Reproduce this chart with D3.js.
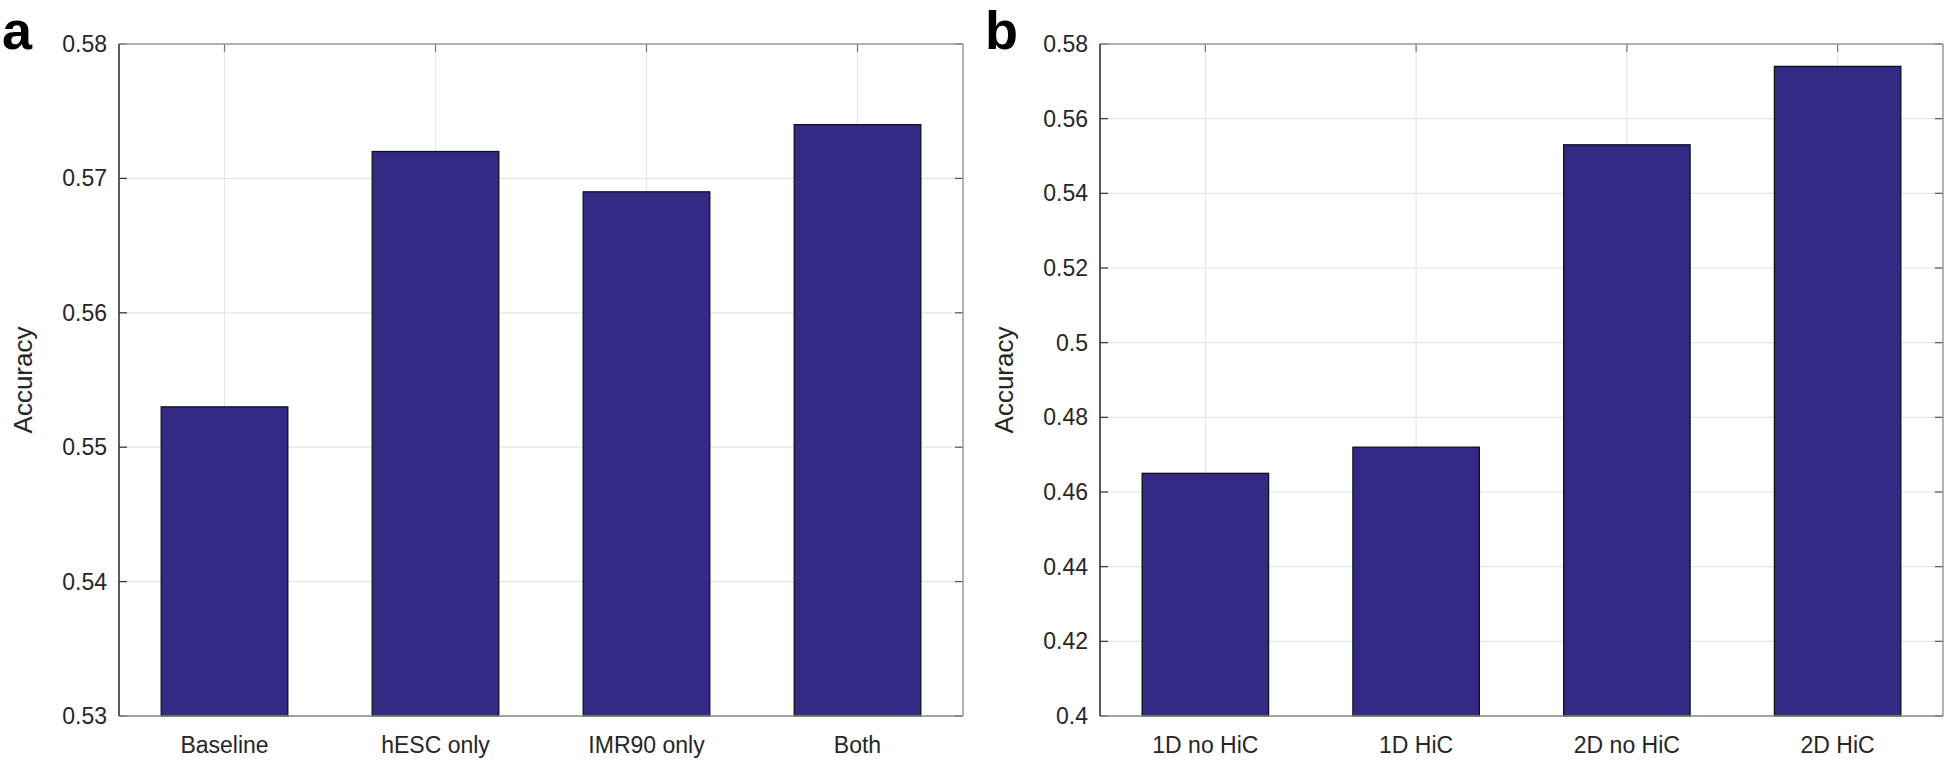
<!DOCTYPE html>
<html><head><meta charset="utf-8">
<script src="https://cdn.jsdelivr.net/npm/d3@7"></script>
<style>body{margin:0;background:#fff}svg{display:block}text{font-family:"Liberation Sans",Arial,sans-serif}</style>
</head><body>
<svg id="c" width="1946" height="761"></svg>
<script>
const catsA = ["Baseline","hESC only","IMR90 only","Both"];
const valsA = [0.553,0.572,0.569,0.574];
const ticksA = [0.53,0.54,0.55,0.56,0.57,0.58];
const catsB = ["1D no HiC","1D HiC","2D no HiC","2D HiC"];
const valsB = [0.465,0.472,0.553,0.574];
const ticksB = [0.4,0.42,0.44,0.46,0.48,0.5,0.52,0.54,0.56,0.58];
const tickLabelsB = ["0.4","0.42","0.44","0.46","0.48","0.5","0.52","0.54","0.56","0.58"];
const tickLabelsA = ["0.53","0.54","0.55","0.56","0.57","0.58"];

const svg = d3.select("#c");
const barColor = "#332a86";

function panel(letter, x0, x1, cats, vals, ticks, tlabels, letterX){
  const top = 44, bottom = 716;
  const g = svg.append("g");
  const x = d3.scaleLinear().domain([0.5, cats.length+0.5]).range([x0, x1]);
  const y = d3.scaleLinear().domain([ticks[0], ticks[ticks.length-1]]).range([bottom, top]);
  // grid
  g.selectAll(".gy").data(ticks).join("line")
    .attr("x1",x0).attr("x2",x1).attr("y1",d=>y(d)).attr("y2",d=>y(d))
    .attr("stroke","#e6e6e6").attr("stroke-width",1.2);
  g.selectAll(".gx").data(cats).join("line")
    .attr("x1",(d,i)=>x(i+1)).attr("x2",(d,i)=>x(i+1)).attr("y1",top).attr("y2",bottom)
    .attr("stroke","#e6e6e6").attr("stroke-width",1.2);
  // ticks inside left / right
  ticks.forEach(t=>{
    g.append("line").attr("x1",x0).attr("x2",x0+8).attr("y1",y(t)).attr("y2",y(t)).attr("stroke","#333").attr("stroke-width",1.2);
    g.append("line").attr("x1",x1).attr("x2",x1-8).attr("y1",y(t)).attr("y2",y(t)).attr("stroke","#555").attr("stroke-width",1.2);
  });
  cats.forEach((c,i)=>{
    g.append("line").attr("x1",x(i+1)).attr("x2",x(i+1)).attr("y1",top).attr("y2",top+8).attr("stroke","#777").attr("stroke-width",1.2);
  });
  // bars
  const bw = (x(2)-x(1))*0.6;
  g.selectAll(".bar").data(vals).join("rect")
    .attr("x",(d,i)=>x(i+1)-bw/2).attr("width",bw)
    .attr("y",d=>y(d)).attr("height",d=>bottom-y(d))
    .attr("fill",barColor).attr("stroke","#111").attr("stroke-width",1.3);
  // box
  g.append("line").attr("x1",x0).attr("x2",x1).attr("y1",top).attr("y2",top).attr("stroke","#999").attr("stroke-width",1.5);
  g.append("line").attr("x1",x1).attr("x2",x1).attr("y1",top).attr("y2",bottom).attr("stroke","#999").attr("stroke-width",1.5);
  g.append("line").attr("x1",x0).attr("x2",x1).attr("y1",bottom).attr("y2",bottom).attr("stroke","#888").attr("stroke-width",1.5);
  g.append("line").attr("x1",x0).attr("x2",x0).attr("y1",top).attr("y2",bottom).attr("stroke","#333").attr("stroke-width",1.6);
  // tick labels
  g.selectAll(".tl").data(ticks).join("text")
    .attr("x",x0-12).attr("y",d=>y(d)).attr("dy","0.35em").attr("text-anchor","end")
    .attr("font-size",23).attr("fill","#262626").text((d,i)=>tlabels[i]);
  g.selectAll(".xl").data(cats).join("text")
    .attr("x",(d,i)=>x(i+1)).attr("y",753).attr("text-anchor","middle")
    .attr("font-size",23).attr("fill","#262626").text(d=>d);
  // y label
  g.append("text").attr("transform",`translate(${x0-87},${(top+bottom)/2}) rotate(-90)`)
    .attr("text-anchor","middle").attr("font-size",26).attr("fill","#262626").text("Accuracy");
  // panel letter
  svg.append("text").attr("x",letterX).attr("y",49).attr("font-size",54).attr("font-weight","bold")
    .attr("fill","#000").text(letter);
}
panel("a",119,963,catsA,valsA,ticksA,tickLabelsA,2);
panel("b",1100,1943,catsB,valsB,ticksB,tickLabelsB,985);
</script>
</body></html>
